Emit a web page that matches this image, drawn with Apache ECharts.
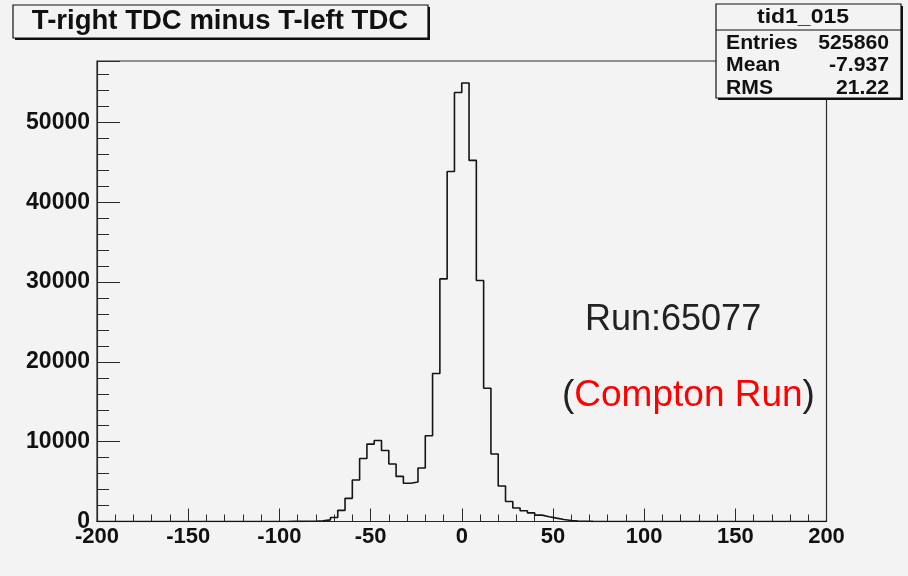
<!DOCTYPE html>
<html>
<head>
<meta charset="utf-8">
<script src="https://cdn.jsdelivr.net/npm/echarts@6/dist/echarts.min.js"></script>
<style>
html,body{margin:0;padding:0;background:#f3f3f3;}
#c{width:908px;height:576px;}
</style>
</head>
<body>
<div id="c"></div>
<script>
// ---- data ----
const histTitle = 'T-right TDC minus T-left TDC';
const histName = 'tid1_015';
const statLabels = ['Entries', 'Mean', 'RMS'];
const statValues = ['525860', '-7.937', '21.22'];
const runText = 'Run:65077';
const runType = 'Compton Run';
const xTickLabels = [-200, -150, -100, -50, 0, 50, 100, 150, 200];
const yTickLabels = [0, 10000, 20000, 30000, 40000, 50000];
const binLow = -200;
const binWidth = 4;
// counts per 4-unit bin from -200 to 200 (100 bins)
const counts = [
  0,0,0,0,0,0,0,0,0,0,
  0,0,0,0,0,0,0,0,0,0,
  0,0,0,0,0,5,10,15,25,40,
  80,200,500,1400,2900,5200,7900,9700,10150,8900,
  7200,5650,4800,4950,6700,10750,18550,30400,43850,53750,
  54950,45250,30200,16700,8450,4450,2500,1700,1350,1080,
  800,590,420,260,130,70,35,15,5,0,
  0,0,0,0,0,0,0,0,0,0,
  0,0,0,0,0,0,0,0,0,0,
  0,0,0,0,0,0,0,0,0,0
];
const yMax = 57700;

// ---- build ----
const stepData = counts.map((v, i) => [binLow + i * binWidth, v]);
stepData.push([binLow + counts.length * binWidth, counts[counts.length - 1]]);

const chart = echarts.init(document.getElementById('c'), null, {renderer: 'canvas'});
const axisColor = '#2a2a2a';
const labelFont = {fontFamily: 'Liberation Sans', fontWeight: 'bold', color: '#111'};
const txt = (o) => Object.assign({fontFamily: 'Liberation Sans', fontWeight: 'bold', fill: '#111', verticalAlign: 'middle'}, o);

const option = {
  backgroundColor: '#f3f3f3',
  animation: false,
  grid: {left: 97, top: 61, right: 81.5, bottom: 54.5, show: true, borderColor: axisColor, borderWidth: 1.2, backgroundColor: 'transparent'},
  xAxis: {
    type: 'value', min: xTickLabels[0], max: xTickLabels[xTickLabels.length - 1], interval: 50,
    axisLine: {show: true, onZero: false, lineStyle: {color: axisColor, width: 1.2}},
    axisTick: {show: true, inside: true, length: 13, lineStyle: {color: axisColor}},
    minorTick: {show: true, splitNumber: 5, length: 7, lineStyle: {color: axisColor}},
    splitLine: {show: false},
    axisLabel: Object.assign({fontSize: 22, margin: 4, formatter: v => String(v)}, labelFont)
  },
  yAxis: [
    {
      type: 'value', min: 0, max: yMax, interval: 2000,
      axisLine: {show: true, onZero: false, lineStyle: {color: axisColor, width: 1.2}},
      axisTick: {show: true, inside: true, length: 12, lineStyle: {color: axisColor}},
      splitLine: {show: false},
      axisLabel: Object.assign({fontSize: 23, margin: 7,
        formatter: v => (yTickLabels.indexOf(v) >= 0 ? String(v) : '')}, labelFont)
    },
    {
      type: 'value', min: 0, max: yMax, interval: 10000, position: 'left', offset: 0,
      axisLine: {show: false, onZero: false},
      axisTick: {show: true, inside: true, length: 23, lineStyle: {color: axisColor}},
      splitLine: {show: false},
      axisLabel: {show: false}
    }
  ],
  series: [{
    type: 'line', step: 'end', data: stepData, yAxisIndex: 0,
    symbol: 'none', lineStyle: {color: '#151515', width: 1.6}
  }],
  graphic: [
    // title box
    {type: 'rect', shape: {x: 15, y: 7, width: 415, height: 33}, style: {fill: '#111'}},
    {type: 'rect', shape: {x: 13, y: 5, width: 415, height: 33}, style: {fill: '#f3f3f3', stroke: '#111', lineWidth: 1.2}},
    {type: 'text', x: 220, y: 22, scaleX: 1.02, style: txt({text: histTitle, fontSize: 27, align: 'center'})},
    // stats box
    {type: 'rect', shape: {x: 718, y: 6, width: 185, height: 94}, style: {fill: '#111'}},
    {type: 'rect', shape: {x: 716, y: 4, width: 185, height: 94}, style: {fill: '#f3f3f3', stroke: '#111', lineWidth: 1.2}},
    {type: 'line', shape: {x1: 716, y1: 30, x2: 901, y2: 30}, style: {stroke: '#111', lineWidth: 1.2}},
    {type: 'text', x: 803, y: 17, scaleX: 1.15, style: txt({text: histName, fontSize: 20, align: 'center'})},
    ...statLabels.map((t, i) => ({type: 'text', x: 726, y: 43 + i * 22.5, scaleX: 1.06, style: txt({text: t, fontSize: 20, align: 'left'})})),
    ...statValues.map((t, i) => ({type: 'text', x: 889, y: 43 + i * 22.5, scaleX: 1.06, style: txt({text: t, fontSize: 20, align: 'right'})})),
    // run text
    {type: 'text', x: 585, y: 320, style: {text: runText, fontFamily: 'Liberation Sans', fontSize: 36, fill: '#222', align: 'left', verticalAlign: 'middle'}},
    {type: 'text', x: 562, y: 396, style: {text: '{a|(}{b|' + runType + '}{a|)}', fontFamily: 'Liberation Sans', fontSize: 37, align: 'left', verticalAlign: 'middle',
      rich: {a: {fill: '#222', fontSize: 37, fontFamily: 'Liberation Sans'}, b: {fill: '#ff0000', fontSize: 37, fontFamily: 'Liberation Sans'}}}}
  ]
};
chart.setOption(option);
</script>
</body>
</html>
